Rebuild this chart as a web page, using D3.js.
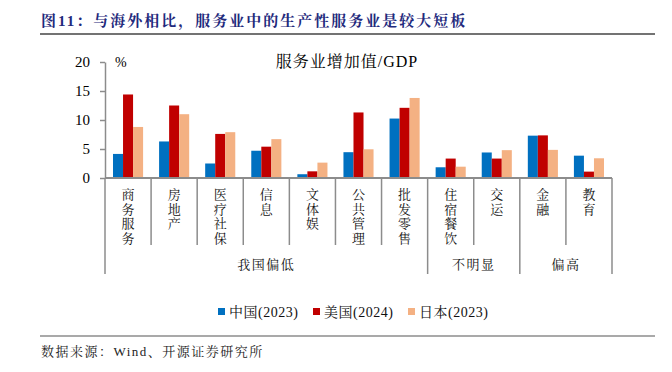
<!DOCTYPE html>
<html>
<head>
<meta charset="utf-8">
<script src="https://cdn.jsdelivr.net/npm/d3@7"></script>
<style>
  html, body { margin: 0; padding: 0; background: #fff; }
  svg { display: block; }
  text { font-family: "Times New Roman", "Liberation Serif", "Noto Serif CJK SC", "Noto Sans CJK SC", serif; }
</style>
</head>
<body>
<div id="chart"></div>
<script>
// Service-sector value added / GDP, China vs US vs Japan
var categories = ['商务服务', '房地产', '医疗社保', '信息', '文体娱', '公共管理',
                  '批发零售', '住宿餐饮', '交运', '金融', '教育'];
var seriesNames = ['中国(2023)', '美国(2024)', '日本(2023)'];
var chinaValues = [4.15, 6.3, 2.5, 4.7, 0.65, 4.45, 10.25, 1.85, 4.4, 7.3, 3.85];
var usaValues   = [14.4, 12.5, 7.6, 5.4, 1.15, 11.3, 12.1, 3.35, 3.35, 7.35, 1.1];
var japanValues = [8.8, 11.0, 7.9, 6.7, 2.65, 4.95, 13.8, 1.95, 4.8, 4.85, 3.4];
var groupNames = ['我国偏低', '不明显', '偏高'];
var groupSizes = [7, 2, 2];
var yTicks = [0, 5, 10, 15, 20];

var COLORS = ['#0070C0', '#C00000', '#F4B183'];
var AXIS_GREY = '#8c8c8c';

var width = 672, height = 372;
var svg = d3.select('#chart').append('svg')
  .attr('width', width).attr('height', height);

// header
svg.append('text')
  .attr('x', 41).attr('y', 26)
  .attr('fill', '#1f2a7c')
  .style('font-size', '15px').style('font-weight', 'bold').style('letter-spacing', '2px')
  .text('图11：与海外相比，服务业中的生产性服务业是较大短板');
svg.append('line')
  .attr('x1', 40).attr('x2', 655).attr('y1', 34).attr('y2', 34)
  .attr('stroke', '#444').attr('stroke-width', 1.5);

// scales
var x0 = d3.scaleBand().domain(categories).range([105, 612]);
var bw = x0.bandwidth();
var x1 = d3.scaleBand().domain(seriesNames).range([8, bw - 8]);
var y = d3.scaleLinear().domain([0, 20]).range([178, 62]);

var rows = categories.map(function (c, i) {
  return { cat: c, values: [chinaValues[i], usaValues[i], japanValues[i]] };
});

// bars
var groups = svg.append('g').selectAll('g').data(rows).join('g')
  .attr('transform', function (d) { return 'translate(' + x0(d.cat) + ',0)'; });
groups.selectAll('rect')
  .data(function (d) { return d.values.map(function (v, k) { return { k: k, v: v }; }); })
  .join('rect')
  .attr('x', function (d) { return x1(seriesNames[d.k]); })
  .attr('width', x1.bandwidth())
  .attr('y', function (d) { return y(d.v); })
  .attr('height', function (d) { return y(0) - y(d.v); })
  .attr('fill', function (d) { return COLORS[d.k]; });

// y axis
var yAxis = svg.append('g')
  .attr('transform', 'translate(105,0)')
  .call(d3.axisLeft(y).tickValues(yTicks).tickSize(5).tickSizeOuter(0).tickPadding(10));
yAxis.select('.domain').attr('stroke', AXIS_GREY).attr('stroke-width', 1.5);
yAxis.selectAll('.tick line').attr('stroke', AXIS_GREY).attr('stroke-width', 1.5);
yAxis.selectAll('.tick text')
  .attr('fill', '#000')
  .style('font-size', '15px')
  .style('font-family', '"Times New Roman", "Liberation Serif", serif');

svg.append('text')
  .attr('x', 115).attr('y', 67)
  .style('font-size', '14px')
  .text('%');

svg.append('text')
  .attr('x', 347).attr('y', 67)
  .attr('text-anchor', 'middle')
  .style('font-size', '16px').style('letter-spacing', '1px')
  .text('服务业增加值/GDP');

// x axis line
svg.append('line')
  .attr('x1', 105).attr('x2', 612).attr('y1', y(0)).attr('y2', y(0))
  .attr('stroke', AXIS_GREY).attr('stroke-width', 2);

// separators: short at every band edge, tall at group edges
var groupEdges = [0];
groupSizes.forEach(function (n) { groupEdges.push(groupEdges[groupEdges.length - 1] + n); });
var edgeIdx = d3.range(categories.length + 1);
svg.append('g').selectAll('line').data(edgeIdx).join('line')
  .attr('x1', function (i) { return i < categories.length ? x0(categories[i]) : x0.range()[1]; })
  .attr('x2', function (i) { return i < categories.length ? x0(categories[i]) : x0.range()[1]; })
  .attr('y1', y(0))
  .attr('y2', function (i) { return groupEdges.indexOf(i) >= 0 ? 274 : 245; })
  .attr('stroke', AXIS_GREY).attr('stroke-width', 1.5);

// vertical category labels (one char per line)
var catLabels = svg.append('g').selectAll('text').data(categories).join('text')
  .attr('text-anchor', 'middle')
  .attr('fill', '#111')
  .style('font-size', '13px');
catLabels.selectAll('tspan')
  .data(function (d) { return d.split('').map(function (ch) { return { ch: ch, cat: d }; }); })
  .join('tspan')
  .attr('x', function (d) { return x0(d.cat) + bw / 2; })
  .attr('y', function (d, i) { return 199 + i * 14.7; })
  .text(function (d) { return d.ch; });

// group labels
svg.append('g').selectAll('text').data(groupNames).join('text')
  .attr('x', function (d, i) {
    var a = x0(categories[groupEdges[i]]);
    var b = groupEdges[i + 1] < categories.length ? x0(categories[groupEdges[i + 1]]) : x0.range()[1];
    return (a + b) / 2;
  })
  .attr('y', 269)
  .attr('text-anchor', 'middle')
  .attr('fill', '#111')
  .style('font-size', '13px').style('letter-spacing', '1.5px')
  .text(function (d) { return d; });

// legend
var legendX = [218, 313, 408];
var legend = svg.append('g').selectAll('g').data(seriesNames).join('g')
  .attr('transform', function (d, i) { return 'translate(' + legendX[i] + ',312)'; });
legend.append('rect')
  .attr('x', 0).attr('y', -4).attr('width', 7).attr('height', 7)
  .attr('fill', function (d, i) { return COLORS[i]; });
legend.append('text')
  .attr('x', 11).attr('y', 5)
  .attr('fill', '#111')
  .style('font-size', '14px').style('letter-spacing', '0.5px')
  .text(function (d) { return d; });

// footer
svg.append('line')
  .attr('x1', 40).attr('x2', 655).attr('y1', 336).attr('y2', 336)
  .attr('stroke', '#555').attr('stroke-width', 1.2);
svg.append('text')
  .attr('x', 41).attr('y', 356)
  .attr('fill', '#222')
  .style('font-size', '13px').style('letter-spacing', '1.5px')
  .text('数据来源：Wind、开源证券研究所');
</script>
</body>
</html>
